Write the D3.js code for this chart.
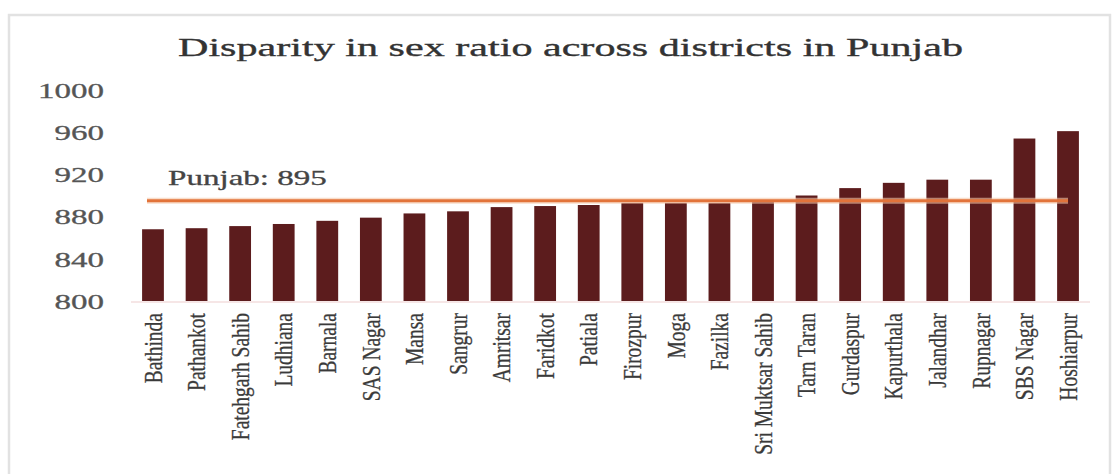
<!DOCTYPE html>
<html>
<head>
<meta charset="utf-8">
<script src="https://cdn.jsdelivr.net/npm/d3@7"></script>
<style>
html,body{margin:0;padding:0;background:#fff;}
svg{display:block;}
</style>
</head>
<body>
<svg id="chart" width="1118" height="474"></svg>
<script>
const districts = ["Bathinda","Pathankot","Fatehgarh Sahib","Ludhiana","Barnala","SAS Nagar","Mansa","Sangrur","Amritsar","Faridkot","Patiala","Firozpur","Moga","Fazilka","Sri Muktsar Sahib","Tarn Taran","Gurdaspur","Kapurthala","Jalandhar","Rupnagar","SBS Nagar","Hoshiarpur"];
const sexRatio = [868,869,871,873,876,879,883,885,889,890,891,893,893,893,895,900,907,912,915,915,954,961];
const stateAverage = 895;
const stateLabel = "Punjab: 895";
const yTicks = [800,840,880,920,960,1000];
const title = "Disparity in sex ratio across districts in Punjab";

const svg = d3.select("#chart");
const serif = "'Liberation Serif','DejaVu Serif',serif";

// stretch a text horizontally to a target width (keeps glyph height)
function stretchTo(sel, width, anchorX, anchorY, anchor) {
  sel.each(function() {
    const t = d3.select(this);
    const w = this.getComputedTextLength();
    const s = width / w;
    t.attr("x",0).attr("y",0)
     .attr("transform", `translate(${anchorX},${anchorY}) scale(${s},1)`)
     .attr("text-anchor", anchor || "start");
  });
}

// frame
svg.append("rect").attr("x",9).attr("y",15).attr("width",1101).attr("height",470)
  .attr("fill","#fff").attr("stroke","#e2e2e2").attr("stroke-width",2.5);

const x = d3.scaleBand().domain(districts).range([131.2, 1089.8]).paddingInner(0.5).paddingOuter(0.25);
const y = d3.scaleLinear().domain([800,1000]).range([301,90]);

// title
svg.append("text")
  .style("font-family",serif).style("font-size","26px").attr("fill","#333")
  .attr("stroke","#333").attr("stroke-width",0.35)
  .text(title)
  .call(s => stretchTo(s, 785, 178, 56));

// y axis labels
const yAxis = d3.axisLeft(y).tickValues(yTicks).tickFormat(d3.format("d")).tickSize(0).tickPadding(0);
const yg = svg.append("g").attr("transform","translate(104,0)").call(yAxis);
yg.select(".domain").remove();
yg.selectAll(".tick text")
  .style("font-family",serif).style("font-size","21px").attr("fill","#555")
  .attr("stroke","#555").attr("stroke-width",0.3)
  .attr("dy","0.35em")
  .each(function(d) {
    const w = this.getComputedTextLength();
    const s = (String(d).length*16.5) / w;
    d3.select(this).attr("x",0).attr("transform",`scale(${s},1)`).attr("text-anchor","end");
  });

// baseline
svg.append("line").attr("x1",131).attr("x2",1090).attr("y1",y(800)+1).attr("y2",y(800)+1)
  .attr("stroke","#f3dede").attr("stroke-width",1.5);

// bars
svg.append("g").selectAll("rect").data(districts).join("rect")
  .attr("x",d=>x(d)).attr("width",x.bandwidth())
  .attr("y",(d,i)=>y(sexRatio[i])).attr("height",(d,i)=>y(800)-y(sexRatio[i]))
  .attr("fill","#5c1c1d");

// average line
const lx1 = x(districts[0]) + x.bandwidth()/2 - 6;
const lx2 = x(districts[districts.length-1]) + x.bandwidth()/2;
svg.append("line").attr("x1",lx1).attr("x2",lx2).attr("y1",y(stateAverage)).attr("y2",y(stateAverage))
  .attr("stroke","#f6c7a8").attr("stroke-width",6).attr("opacity",0.6);
svg.append("line").attr("x1",lx1).attr("x2",lx2).attr("y1",y(stateAverage)).attr("y2",y(stateAverage))
  .attr("stroke","#e2733a").attr("stroke-width",3);

svg.append("text")
  .style("font-family",serif).style("font-size","21px").attr("fill","#444")
  .attr("stroke","#444").attr("stroke-width",0.3)
  .text(stateLabel)
  .call(s => stretchTo(s, 159, 168, 185));

// x labels
const xAxis = d3.axisBottom(x).tickSize(0).tickPadding(0);
const xg = svg.append("g").attr("transform","translate(0,313)").call(xAxis);
xg.select(".domain").remove();
xg.selectAll(".tick text")
  .attr("transform","rotate(-90) scale(0.78,1)")
  .attr("x",0).attr("y",0).attr("dy","0.35em")
  .attr("text-anchor","end")
  .style("font-family",serif).style("font-size","25px").attr("fill","#3a3a3a")
  .attr("stroke","#3a3a3a").attr("stroke-width",0.3);
</script>
</body>
</html>
